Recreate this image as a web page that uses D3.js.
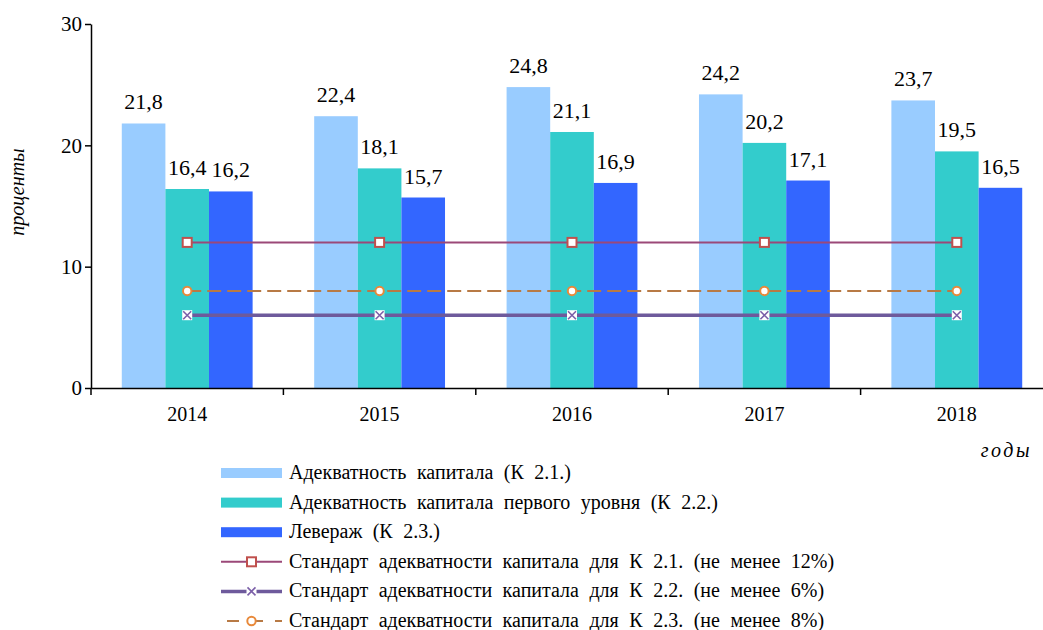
<!DOCTYPE html>
<html>
<head>
<meta charset="utf-8">
<script src="https://cdn.jsdelivr.net/npm/d3@7"></script>
<style>
  body { margin: 0; background: #fff; }
</style>
</head>
<body>
<script>
var FONT = "'Liberation Serif'";

// data
var years = ["2014", "2015", "2016", "2017", "2018"];
var seriesNames = ["Адекватность капитала (К 2.1.)",
                   "Адекватность капитала первого уровня (К 2.2.)",
                   "Левераж (К 2.3.)"];
var k21 = [21.8, 22.4, 24.8, 24.2, 23.7];
var k22 = [16.4, 18.1, 21.1, 20.2, 19.5];
var k23 = [16.2, 15.7, 16.9, 17.1, 16.5];
var std21 = [12, 12, 12, 12, 12];
var std22 = [6, 6, 6, 6, 6];
var std23 = [8, 8, 8, 8, 8];
var lineNames = ["Стандарт адекватности капитала для К 2.1. (не менее 12%)",
                 "Стандарт адекватности капитала для К 2.2. (не менее 6%)",
                 "Стандарт адекватности капитала для К 2.3. (не менее 8%)"];
var yTicks = [0, 10, 20, 30];

var barColors = ["#99ccff", "#33cccc", "#3366ff"];

var margin = {top: 24, left: 91},
    width = 962,
    height = 364;

var svg = d3.select("body").append("svg")
    .attr("width", 1043)
    .attr("height", 630);

var g = svg.append("g")
    .attr("transform", "translate(" + margin.left + "," + margin.top + ")");

var x0 = d3.scaleBand().domain(years).range([0, width]).paddingInner(0.32).paddingOuter(0.16);
var x1 = d3.scaleBand().domain([0, 1, 2]).range([0, x0.bandwidth()]);
var y = d3.scaleLinear().domain([0, 30]).range([height, 0]);

var barData = [k21, k22, k23];

// bars
barData.forEach(function(vals, si) {
  g.selectAll(".bar" + si)
    .data(vals)
    .enter().append("rect")
      .attr("x", function(d, i) { return x0(years[i]) + x1(si); })
      .attr("y", function(d) { return y(d); })
      .attr("width", x1.bandwidth())
      .attr("height", function(d) { return height - y(d); })
      .attr("fill", barColors[si]);

  g.selectAll(".lab" + si)
    .data(vals)
    .enter().append("text")
      .attr("x", function(d, i) { return x0(years[i]) + x1(si) + x1.bandwidth() / 2; })
      .attr("y", function(d) { return y(d) - 14; })
      .attr("text-anchor", "middle")
      .style("font-family", FONT)
      .style("font-size", "22px")
      .text(function(d) { return d.toFixed(1).replace(".", ","); });
});

// standard lines
var xc = function(i) { return x0(years[i]) + x0.bandwidth() / 2; };
var line = d3.line()
    .x(function(d, i) { return xc(i); })
    .y(function(d) { return y(d); });

var lineStyles = [
  {data: std21, color: "#9b4878", width: 2, dash: null, marker: "square"},
  {data: std22, color: "#6e5a9c", width: 3.5, dash: null, marker: "cross"},
  {data: std23, color: "#b87a45", width: 2, dash: "14,6", marker: "circle"}
];

function drawMarker(sel, type, cx, cy) {
  if (type === "square") {
    sel.append("rect").attr("x", cx - 4.5).attr("y", cy - 4.5).attr("width", 9).attr("height", 9)
      .attr("fill", "#fff").attr("stroke", "#c0504d").attr("stroke-width", 2);
  } else if (type === "circle") {
    sel.append("circle").attr("cx", cx).attr("cy", cy).attr("r", 4.2)
      .attr("fill", "#fff").attr("stroke", "#e8893a").attr("stroke-width", 2);
  } else {
    sel.append("rect").attr("x", cx - 5).attr("y", cy - 5).attr("width", 10).attr("height", 10)
      .attr("fill", "#fff");
    sel.append("path").attr("d", "M" + (cx - 4) + "," + (cy - 4) + "L" + (cx + 4) + "," + (cy + 4) +
        "M" + (cx + 4) + "," + (cy - 4) + "L" + (cx - 4) + "," + (cy + 4))
      .attr("stroke", "#7b5fa8").attr("stroke-width", 1.6);
  }
}

lineStyles.forEach(function(s) {
  g.append("path")
    .datum(s.data)
    .attr("d", line)
    .attr("fill", "none")
    .attr("stroke", s.color)
    .attr("stroke-width", s.width)
    .attr("stroke-dasharray", s.dash);
  s.data.forEach(function(d, i) {
    drawMarker(g, s.marker, xc(i), y(d));
  });
});

// axes
var yAxis = g.append("g")
    .call(d3.axisLeft(y).tickValues(yTicks).tickSize(6).tickSizeOuter(0));
yAxis.select(".domain").attr("stroke", "#000").attr("stroke-width", 1.5);
yAxis.selectAll(".tick line").attr("stroke", "#000").attr("stroke-width", 1.5);
yAxis.selectAll(".tick text").attr("x", -9)
    .style("font-family", FONT).style("font-size", "21px").attr("fill", "#000");

var xAxis = g.append("g")
    .attr("transform", "translate(0," + height + ")")
    .call(d3.axisBottom(x0).tickSize(0).tickPadding(19));
xAxis.select(".domain").attr("stroke", "#000").attr("stroke-width", 1.5);
xAxis.selectAll(".tick text")
    .style("font-family", FONT).style("font-size", "20px").attr("fill", "#000");

// ticks between categories
var step = x0.step();
g.selectAll(".xsep")
  .data(d3.range(years.length + 1))
  .enter().append("line")
    .attr("x1", function(d) { return d * step; })
    .attr("x2", function(d) { return d * step; })
    .attr("y1", height)
    .attr("y2", height + 7)
    .attr("stroke", "#000")
    .attr("stroke-width", 1.5);

// axis titles
svg.append("text")
    .attr("transform", "translate(24,192) rotate(-90)")
    .attr("text-anchor", "middle")
    .style("font-family", FONT)
    .style("font-size", "20px")
    .style("font-style", "italic")
    .text("проценты");

svg.append("text")
    .attr("x", 1032)
    .attr("y", 457)
    .attr("text-anchor", "end")
    .style("font-family", FONT)
    .style("font-size", "20px")
    .style("font-style", "italic")
    .style("letter-spacing", "2.5px")
    .text("годы");

// legend
var legend = svg.append("g").attr("transform", "translate(221,473)");
var rowH = 29.6;
seriesNames.forEach(function(name, i) {
  var row = legend.append("g").attr("transform", "translate(0," + (i * rowH) + ")");
  row.append("rect").attr("x", 0).attr("y", -5).attr("width", 61).attr("height", 10)
    .attr("fill", barColors[i]);
  row.append("text").attr("x", 68).attr("y", 6)
    .style("font-family", FONT).style("font-size", "20px").style("word-spacing", "5.5px").text(name);
});
lineStyles.forEach(function(s, i) {
  var row = legend.append("g").attr("transform", "translate(0," + ((i + 3) * rowH) + ")");
  row.append("line").attr("x1", 0).attr("x2", 61).attr("y1", 0).attr("y2", 0)
    .attr("stroke", s.color).attr("stroke-width", s.width)
    .attr("stroke-dasharray", s.dash ? "12,12" : null)
    .attr("stroke-dashoffset", s.dash ? -6 : null);
  drawMarker(row, s.marker, 30.5, 0);
  row.append("text").attr("x", 68).attr("y", 6)
    .style("font-family", FONT).style("font-size", "20px").style("word-spacing", "5.5px").text(lineNames[i]);
});
</script>
</body>
</html>
